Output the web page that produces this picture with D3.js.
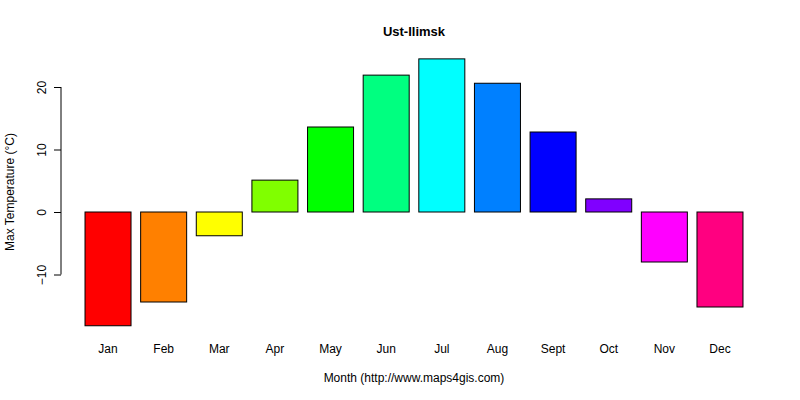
<!DOCTYPE html>
<html><head><meta charset="utf-8">
<script src="https://cdn.jsdelivr.net/npm/d3@7"></script>
<style>body{margin:0;background:#fff}text{font-family:Arial,"Liberation Sans",sans-serif}</style>
</head><body><svg id="c" width="800" height="400"></svg>
<script>
const months=["Jan","Feb","Mar","Apr","May","Jun","Jul","Aug","Sept","Oct","Nov","Dec"];
const values=[-18.2,-14.4,-3.8,5.1,13.6,21.9,24.5,20.6,12.8,2.1,-8.0,-15.2];
const colors=["#FF0000","#FF8000","#FFFF00","#80FF00","#00FF00","#00FF80","#00FFFF","#0080FF","#0000FF","#8000FF","#FF00FF","#FF0080"];
const yTicks=[-10,0,10,20];
const svg=d3.select("#c");
const x=d3.scaleBand().domain(months).range([80.2,747.8]).paddingInner(0.173).paddingOuter(0.0865);
const y=d3.scaleLinear().domain([0,20]).range([212,87]);
svg.selectAll("rect").data(values).join("rect")
 .attr("x",(d,i)=>x(months[i])).attr("width",x.bandwidth())
 .attr("y",d=>y(Math.max(0,d))).attr("height",d=>Math.abs(y(d)-y(0)))
 .attr("fill",(d,i)=>colors[i]).attr("stroke","#000").attr("stroke-width",1);
const ya=svg.append("g").attr("transform","translate(61,0)")
 .call(d3.axisLeft(y).tickValues(yTicks).tickSize(7).tickFormat(d3.format("d")));
ya.select(".domain").attr("d",`M-0,${y(-10)}V${y(20)}`);
ya.selectAll("text").attr("transform","rotate(-90)").attr("x",0).attr("y",-15).attr("dy","0").attr("text-anchor","middle").style("font-size","12px");
svg.append("g").selectAll("text").data(months).join("text")
 .attr("x",d=>x(d)+x.bandwidth()/2).attr("y",353).attr("text-anchor","middle").style("font-size","12px").text(d=>d);
svg.append("text").attr("x",414).attr("y",36).attr("text-anchor","middle").style("font-size","13px").style("font-weight","bold").text("Ust-Ilimsk");
svg.append("text").attr("x",414).attr("y",382).attr("text-anchor","middle").style("font-size","12px").text("Month (http://www.maps4gis.com)");
svg.append("text").attr("transform","translate(14,192) rotate(-90)").attr("text-anchor","middle").style("font-size","12px").text("Max Temperature (°C)");
</script></body></html>
